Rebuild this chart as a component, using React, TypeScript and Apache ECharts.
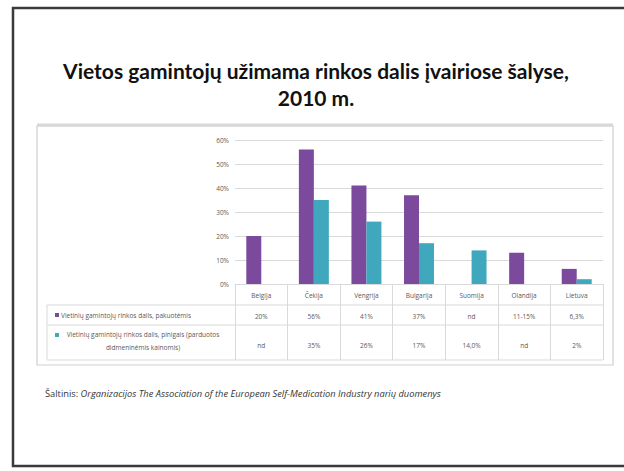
import React, { useEffect, useRef } from "react";
import * as echarts from "echarts";

const categories = ["Belgija", "Čekija", "Vengrija", "Bulgarija", "Suomija", "Olandija", "Lietuva"];
const packsShare = [20, 56, 41, 37, null, 13, 6.3];
const valueShare = [null, 35, 26, 17, 14, null, 2];
const packsLabels = ["20%", "56%", "41%", "37%", "nd", "11-15%", "6,3%"];
const valueLabels = ["nd", "35%", "26%", "17%", "14,0%", "nd", "2%"];
const seriesNames = [
  "Vietinių gamintojų rinkos dalis, pakuotėmis",
  "Vietinių gamintojų rinkos dalis, pinigais (parduotos didmeninėmis kainomis)",
];
const titleLines = ["Vietos gamintojų užimama rinkos dalis įvairiose šalyse,", "2010 m."];
const sourceLabel = "Šaltinis: ";
const sourceText = "Organizacijos The Association of the European Self-Medication Industry narių duomenys";

const PURPLE = "#7b4a9c";
const TEAL = "#3fa8bd";
const GRID = "#d9d9d9";
const TXT = "#595959";
const FONT = "'Open Sans', 'Noto Sans', sans-serif";
const TITLE_FONT = "Lato, 'Open Sans', sans-serif";

export default function App() {
  const ref = useRef<HTMLDivElement>(null);
  useEffect(() => {
    if (!ref.current) return;
    const chart = echarts.init(ref.current, null, { renderer: "svg" });
    const tableLeft = 47;
    const tableRight = 603;
    chart.setOption({
      animation: false,
      backgroundColor: "#ffffff",
      textStyle: { fontFamily: FONT },
      title: {
        text: titleLines.join("\n"),
        left: 311,
        top: 52,
        textAlign: "center",
        textStyle: { fontSize: 21, fontWeight: "bold", color: "#111", lineHeight: 27, fontFamily: TITLE_FONT },
      },
      grid: { left: 235, right: 21, top: 140, bottom: 187, containLabel: false },
      xAxis: {
        type: "category",
        data: categories,
        axisLine: { show: true, lineStyle: { color: GRID } },
        axisTick: { show: true, length: 76, interval: 0, lineStyle: { color: GRID } },
        axisLabel: {
          interval: 0,
          margin: 1,
          formatter: (v: string, i: number) => `{n|${v}}\n{a|${packsLabels[i]}}\n{b|${valueLabels[i]}}`,
          rich: {
            n: { fontSize: 6.5, lineHeight: 21, color: TXT, fontFamily: FONT },
            a: { fontSize: 6.5, lineHeight: 20, color: TXT, fontFamily: FONT },
            b: { fontSize: 6.5, lineHeight: 38, color: TXT, fontFamily: FONT },
          },
        },
      },
      yAxis: {
        type: "value",
        min: 0,
        max: 60,
        interval: 10,
        axisLine: { show: false },
        axisTick: { show: false },
        axisLabel: { formatter: "{value}%", fontSize: 6.5, color: TXT, margin: 6 },
        splitLine: { lineStyle: { color: GRID } },
      },
      series: [
        {
          name: seriesNames[0],
          type: "bar",
          data: packsShare,
          barGap: "0%",
          barCategoryGap: "43%",
          itemStyle: { color: PURPLE },
        },
        {
          name: seriesNames[1],
          type: "bar",
          data: valueShare,
          itemStyle: { color: TEAL },
        },
      ],
      graphic: [
        {
          type: "rect",
          shape: { x: 13, y: 8, width: 700, height: 458 },
          style: { fill: "none", stroke: "#3a3a3a", lineWidth: 2.5 },
          silent: true,
        },
        {
          type: "rect",
          shape: { x: 37, y: 126, width: 576, height: 239 },
          style: { fill: "none", stroke: "#cfcfcf", lineWidth: 1.2 },
          silent: true,
        },
        {
          type: "line",
          shape: { x1: 37, y1: 125, x2: 613, y2: 125 },
          style: { stroke: "#d8d8d8", lineWidth: 3 },
          silent: true,
        },
        { type: "line", shape: { x1: tableLeft, y1: 305, x2: tableRight, y2: 305 }, style: { stroke: GRID, lineWidth: 1 } },
        { type: "line", shape: { x1: tableLeft, y1: 325, x2: tableRight, y2: 325 }, style: { stroke: GRID, lineWidth: 1 } },
        { type: "line", shape: { x1: tableLeft, y1: 360, x2: tableRight, y2: 360 }, style: { stroke: GRID, lineWidth: 1 } },
        { type: "line", shape: { x1: tableLeft, y1: 305, x2: tableLeft, y2: 360 }, style: { stroke: GRID, lineWidth: 1 } },
        { type: "rect", shape: { x: 55, y: 313, width: 4, height: 4 }, style: { fill: PURPLE } },
        {
          type: "text",
          x: 61,
          y: 315,
          style: { text: seriesNames[0], fontSize: 6.5, fill: TXT, fontFamily: FONT, textVerticalAlign: "middle" },
        },
        { type: "rect", shape: { x: 55, y: 333, width: 4, height: 4 }, style: { fill: TEAL } },
        {
          type: "text",
          x: 143,
          y: 341,
          style: {
            text: "Vietinių gamintojų rinkos dalis, pinigais (parduotos\ndidmeninėmis kainomis)",
            fontSize: 6.5,
            lineHeight: 13,
            fill: TXT,
            fontFamily: FONT,
            textAlign: "center",
            textVerticalAlign: "middle",
          },
        },
        {
          type: "text",
          x: 45,
          y: 393,
          style: {
            text: `{r|${sourceLabel}}{i|${sourceText}}`,
            textVerticalAlign: "middle",
            rich: {
              r: { fontSize: 9.3, fill: "#333", fontFamily: FONT },
              i: { fontSize: 9.3, fill: "#333", fontStyle: "italic", fontFamily: FONT },
            },
          },
        },
      ],
    });
    return () => chart.dispose();
  }, []);
  return (
    <div
      ref={ref}
      style={{ position: "fixed", left: 0, top: 0, width: 624, height: 471, background: "#fff" }}
    />
  );
}
